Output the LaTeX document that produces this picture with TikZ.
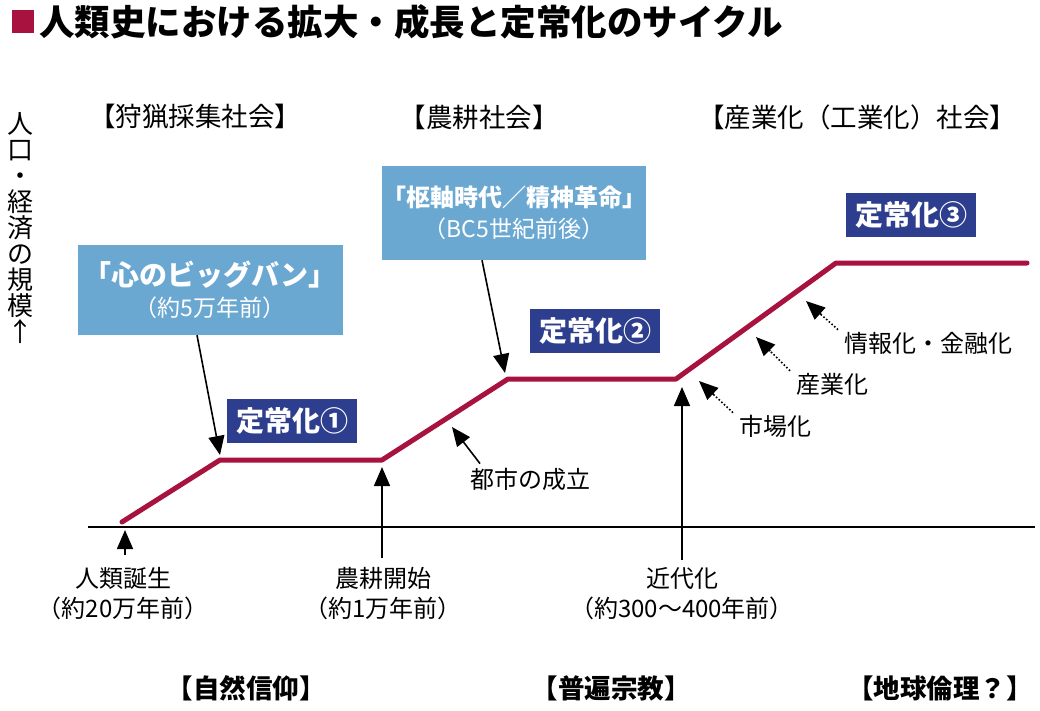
\documentclass[tikz,border=0pt]{standalone}
\usepackage{fontspec}
\setmainfont{Noto Sans CJK JP}
\usetikzlibrary{positioning,arrows.meta,calc}
\definecolor{crimson}{HTML}{A8123E}
\definecolor{skyblue}{HTML}{6AA8D2}
\definecolor{navy}{HTML}{2E3E8E}
\newcommand{\fsz}[1]{\fontsize{#1}{#1}\selectfont}

\begin{document}
\begin{tikzpicture}
[x=1pt,y=-1pt,
stage/.style={fill=navy,text=white,minimum width=130,minimum height=44,inner sep=0pt,font=\fsz{28}\bfseries},
era/.style={fill=skyblue,text=white,align=center,inner sep=0pt},
arr/.style={-{Triangle[length=19pt,width=16pt]},line width=1.6pt},
dotline/.style={line width=1.6pt,dash pattern=on 1.6pt off 2pt,shorten >=16pt},
lbl/.style={font=\fsz{24},align=center,inner sep=0pt},
head/.style={font=\fsz{26.5},inner sep=0pt}]
\useasboundingbox (0,0) rectangle (1040,710);
% title
\fill[crimson] (12,10) rectangle (34,33);
\node[anchor=west,inner sep=0pt,font=\fsz{35.5}\bfseries] (title) at (39,22) {人類史における拡大・成長と定常化のサイクル};
% vertical axis label
\node[align=center,inner sep=0pt,font=\fsz{26}] (ylab) at (21,228) {人\\[0pt]口\\[0pt]・\\[0pt]経\\[0pt]済\\[0pt]の\\[0pt]規\\[0pt]模\\[0pt]↑};
% societies
\node[head] (hunt) at (195,117) {【狩猟採集社会】};
\node[head] (farm) at (479,117) {【農耕社会】};
\node[head] (indus) at (857,117) {【産業化（工業化）社会】};
% axis and curve
\coordinate (axL) at (88,527); \coordinate (axR) at (1035,527);
\draw[line width=1.6pt] (axL) -- (axR);
\coordinate (p0) at (122,522); \coordinate (p1) at (220,460);
\coordinate (p2) at (382,460); \coordinate (p3) at (508,379);
\coordinate (p4) at (676,379); \coordinate (p5) at (836,263);
\coordinate (p6) at (1027,263);
\draw[crimson,line width=5pt,line cap=round,line join=round] (p0) -- (p1) -- (p2) -- (p3) -- (p4) -- (p5) -- (p6);
% boxes
\node[era,minimum width=265,minimum height=90] (bigbang) at (210,290)
  {{\fsz{28}\bfseries 「心のビッグバン」}\\[7pt]{\fsz{23}（約5万年前）}};
\node[era,minimum width=262,minimum height=94] (axial) at (514,213)
  {{\fsz{24}\bfseries 「枢軸時代／精神革命」}\\[8pt]{\fsz{23}（BC5世紀前後）}};
\node[stage] (st1) at (292,421) {定常化①};
\node[stage] (st2) at (595,331) {定常化②};
\node[stage] (st3) at (911,215) {定常化③};
\coordinate (bbTip) at (220,455); \coordinate (axTip) at (505,373);
\draw[arr] ([xshift=-13pt]bigbang.south) -- (bbTip);
\draw[arr] ([xshift=-32pt]axial.south) -- (axTip);
% events on the time axis
\node[lbl,anchor=north] (born) at (123,567) {人類誕生\\[6pt]（約20万年前）};
\node[lbl,anchor=north] (agri) at (383,567) {農耕開始\\[6pt]（約1万年前）};
\node[lbl,anchor=north] (modern) at (682,567) {近代化\\[6pt]（約300～400年前）};
\coordinate (bornTip) at (125,530); \coordinate (agriTip) at (382,467);
\coordinate (modTip) at (682,387);
\draw[arr] ([xshift=2pt,yshift=12pt]born.north) -- (bornTip);
\draw[arr] ([xshift=-1pt,yshift=9pt]agri.north) -- (agriTip);
\draw[arr] ([yshift=7pt]modern.north) -- (modTip);
% drivers
\node[lbl,anchor=west] (city) at (470,479) {都市の成立};
\node[lbl,anchor=west] (market) at (739,426) {市場化};
\node[lbl,anchor=west] (industry) at (796,384) {産業化};
\node[lbl,anchor=west] (info) at (844,343) {情報化・金融化};
\coordinate (cityTip) at (452,427); \coordinate (mktTip) at (699,381);
\coordinate (indTip) at (756,337); \coordinate (infoTip) at (806,301);
\coordinate (mktFrom) at ([xshift=-6pt,yshift=2pt]market.north west);
\coordinate (indFrom) at ([xshift=-6pt,yshift=2pt]industry.north west);
\coordinate (infoFrom) at ([xshift=-6pt,yshift=2pt]info.north west);
\draw[arr] ([xshift=10pt,yshift=4pt]city.north west) -- (cityTip);
\foreach \f/\t in {mktFrom/mktTip,indFrom/indTip,infoFrom/infoTip}{
  \draw[dotline] (\f) -- (\t);
  \draw[arr] ($(\t)!20pt!(\f)$) -- (\t);
}
% ethics
\node[head,font=\fsz{26.5}\bfseries] (nature) at (246,688) {【自然信仰】};
\node[head,font=\fsz{26.5}\bfseries] (univ) at (611,688) {【普遍宗教】};
\node[head,font=\fsz{26.5}\bfseries] (earth) at (940,688) {【地球倫理？】};
\end{tikzpicture}
\end{document}
